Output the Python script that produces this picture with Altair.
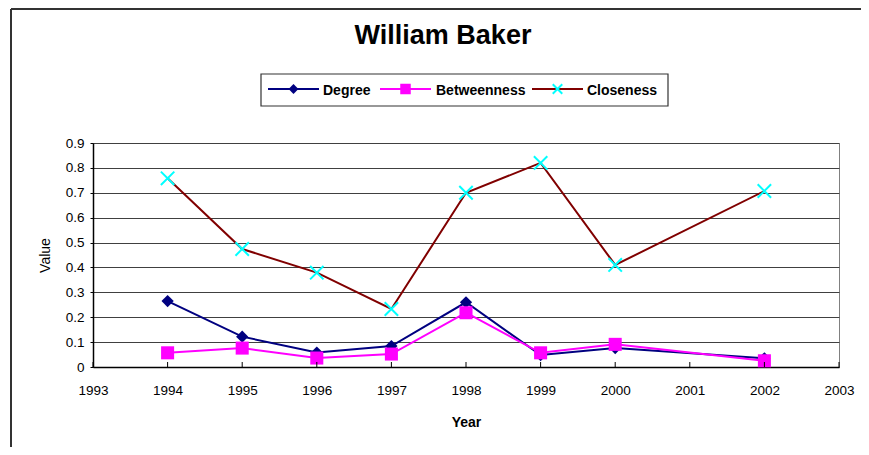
import altair as alt
import pandas as pd

# ---- data ----
years = [1994, 1995, 1996, 1997, 1998, 1999, 2000, 2002]
degree = [0.265, 0.122, 0.058, 0.084, 0.260, 0.048, 0.076, 0.035]
betweenness = [0.057, 0.076, 0.036, 0.052, 0.218, 0.057, 0.091, 0.025]
closeness = [0.758, 0.474, 0.379, 0.233, 0.700, 0.820, 0.410, 0.707]
series = ["Degree", "Betweenness", "Closeness"]
line_colors = ["#000080", "#FF00FF", "#800000"]
marker_colors = ["#000080", "#FF00FF", "#00FFFF"]
x_ticks = list(range(1993, 2004))
y_ticks = [0.0, 0.1, 0.2, 0.3, 0.4, 0.5, 0.6, 0.7, 0.8, 0.9]

FONT = "Liberation Sans"
W, H = 746, 224

rows = []
for name, vals in zip(series, [degree, betweenness, closeness]):
    for y, v in zip(years, vals):
        rows.append({"Year": y, "Value": v, "Series": name})
df = pd.DataFrame(rows)

xscale = alt.Scale(domain=[1993, 2003], nice=False, zero=False)
yscale = alt.Scale(domain=[0, 0.9], nice=False)

x_axis = alt.Axis(values=x_ticks, format="d", ticks=False, grid=False,
                  labelPadding=16, labelFontSize=13.5, labelColor="black",
                  labelOverlap=False, labelFlush=False,
                  domainColor="black", domainWidth=1.5,
                  title="Year", titleFontSize=14, titleFontWeight="bold",
                  titleColor="black", titlePadding=19, labelFont=FONT, titleFont=FONT)
y_axis = alt.Axis(values=y_ticks, format=".1~f", grid=True, gridColor="#404040", gridOpacity=1,
                  tickSize=3, tickColor="black", labelPadding=6,
                  labelOverlap=False, labelFlush=False,
                  labelFontSize=13.5, labelColor="black",
                  domainColor="black", domainWidth=1.5,
                  title="Value", titleFontSize=14, titleFontWeight="normal",
                  titleColor="black", titlePadding=13, labelFont=FONT, titleFont=FONT)


def X():
    return alt.X("Year:Q", scale=xscale, axis=x_axis)


def Y():
    return alt.Y("Value:Q", scale=yscale, axis=y_axis)


lines = alt.Chart(df).mark_line(strokeWidth=2).encode(
    x=X(), y=Y(),
    color=alt.Color("Series:N", scale=alt.Scale(domain=series, range=line_colors), legend=None),
    detail="Series:N",
)

X_PATH = "M-1,-1L1,1M-1,1L1,-1"
shapes = ["diamond", "square", X_PATH]
sizes = [150, 170, 180]
filled = [True, True, False]

point_layers = []
for name, shp, sz, fl, col in zip(series, shapes, sizes, filled, marker_colors):
    sub = df[df["Series"] == name]
    if fl:
        mk = alt.Chart(sub).mark_point(shape=shp, size=sz, filled=True, color=col, opacity=1)
    else:
        mk = alt.Chart(sub).mark_point(shape=shp, size=sz, filled=False, color=col,
                                       strokeWidth=2, opacity=1)
    point_layers.append(mk.encode(x=X(), y=Y()))

# x-axis tick marks (inside the plot)
tick_df = pd.DataFrame({"Year": x_ticks})
xticks = alt.Chart(tick_df).mark_rule(color="black", strokeWidth=1).encode(
    x=X(), y=alt.value(H - 5), y2=alt.value(H)
)

one = pd.DataFrame({"a": [0]})

# outer frame
frame_top = alt.Chart(one).mark_rule(color="#333333", strokeWidth=2).encode(
    x=alt.value(-82), x2=alt.value(800), y=alt.value(-134))
frame_left = alt.Chart(one).mark_rule(color="#333333", strokeWidth=2).encode(
    x=alt.value(-82), y=alt.value(-134), y2=alt.value(330))

# title
title = alt.Chart(one).mark_text(text="William Baker", font=FONT, fontSize=27,
                                 fontWeight="bold", color="black", align="center",
                                 baseline="middle").encode(
    x=alt.value(350), y=alt.value(-107.5))

# legend
leg_box = alt.Chart(one).mark_rect(fill="white", stroke="#333333", strokeWidth=1.2).encode(
    x=alt.value(168), x2=alt.value(575), y=alt.value(-69), y2=alt.value(-37))
legend_layers = [leg_box]
leg_line_x = [175, 287, 439]
leg_line_len = 51
leg_text_x = [230, 343, 494]
for i, name in enumerate(series):
    lx = leg_line_x[i]
    legend_layers.append(alt.Chart(one).mark_rule(color=line_colors[i], strokeWidth=2).encode(
        x=alt.value(lx), x2=alt.value(lx + leg_line_len), y=alt.value(-54)))
    if filled[i]:
        pm = alt.Chart(one).mark_point(shape=shapes[i], size=sizes[i] * 0.65, filled=True,
                                       color=marker_colors[i], opacity=1)
    else:
        pm = alt.Chart(one).mark_point(shape=shapes[i], size=sizes[i] * 0.5, filled=False,
                                       color=marker_colors[i], strokeWidth=2, opacity=1)
    legend_layers.append(pm.encode(x=alt.value(lx + leg_line_len / 2), y=alt.value(-54)))
    legend_layers.append(alt.Chart(one).mark_text(text=name, font=FONT, fontSize=14,
                                                  fontWeight="bold", color="black",
                                                  align="left", baseline="middle").encode(
        x=alt.value(leg_text_x[i]), y=alt.value(-52.5)))

chart = alt.layer(
    lines, *point_layers, xticks, frame_top, frame_left, title, *legend_layers
).properties(
    width=W, height=H,
    autosize=alt.AutoSizeParams(type="none"),
    padding={"left": 85, "top": 135, "right": 22, "bottom": 80},
).configure(font=FONT, background="white").configure_view(stroke="#808080", strokeWidth=1)

chart.save("out.html", embed_options={"renderer": "svg", "actions": False})
